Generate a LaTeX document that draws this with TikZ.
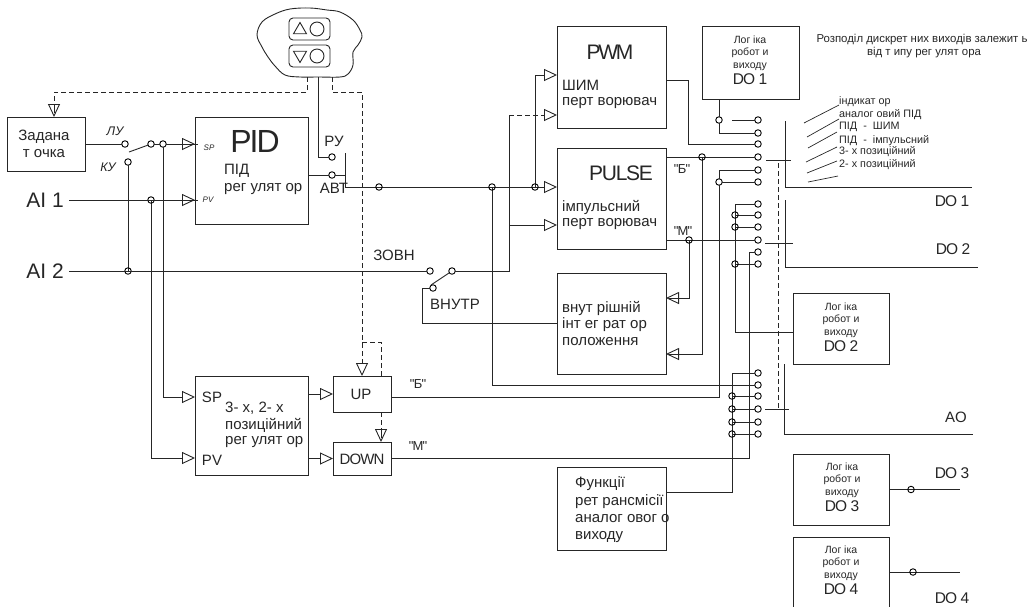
\documentclass[tikz,border=0pt]{standalone}
\usepackage{fontspec}
\setmainfont{Liberation Sans}
\newfontfamily\tightsf[LetterSpace=-6]{Liberation Sans}
\newfontfamily\tightersf[LetterSpace=-11]{Liberation Sans}
\usetikzlibrary{arrows.meta,shapes.geometric}
\tikzset{
  wire/.style={line width=0.9pt,color=black!85},
  dline/.style={wire,dash pattern=on 5pt off 3pt},
  tri/.style={-{Triangle[open,length=13pt,width=12pt]}},
  block/.style={draw,line width=0.9pt,color=black!85,inner sep=0pt,outer sep=0pt},
  logic/.style={block,minimum width=96pt},
  logict/.style={inner sep=0pt,align=center,text=black!85,font=\fontsize{10.5}{12.6}\selectfont},
  term/.style={draw,circle,line width=0.9pt,fill=white,minimum size=6.5pt,inner sep=0pt,outer sep=0pt},
  junc/.style={draw,circle,line width=0.9pt,minimum size=6.5pt,inner sep=0pt,outer sep=0pt},
  lbl/.style={inner sep=0pt,text=black!85,font=\fontsize{15}{17}\selectfont},
  lbll/.style={lbl,anchor=west},
  tiny/.style={inner sep=0pt,text=black!85,anchor=west,font=\fontsize{10.8}{12}\selectfont},
  ital/.style={inner sep=0pt,text=black!85,font=\fontsize{12.5}{14}\itshape\selectfont},
  big/.style={inner sep=0pt,text=black!85,font=\tightsf\fontsize{21}{24}\selectfont},
  do/.style={inner sep=0pt,text=black!85,font=\tightsf\fontsize{15.5}{17}\selectfont},
  quot/.style={inner sep=0pt,text=black!85,font=\tightsf\fontsize{13}{15}\selectfont},
}
\newcommand{\dotext}[1]{{\tightsf\fontsize{15.5}{17}\selectfont #1}}
\begin{document}
\begin{tikzpicture}[x=1pt,y=-1pt]
\useasboundingbox (0,0) rectangle (1027,606);
% operator panel
\draw[wire] plot[smooth cycle,tension=0.6] coordinates {(257,35) (262,22) (275,14) (290,9) (310,8) (327,10) (340,12) (353,20) (360,30) (362,37) (358,45) (353,52) (353,65) (348,74) (340,77) (318,77) (300,77) (285,75) (275,66) (268,57) (262,47)};
\node[block,rounded corners=4pt,minimum width=41pt,minimum height=22pt] (bup) at (309.5,29) {};
\node[block,rounded corners=4pt,minimum width=41pt,minimum height=22pt] (bdn) at (309.5,56) {};
\node[block,regular polygon,regular polygon sides=3,minimum size=15pt] (tup) at (300,30) {};
\node[block,regular polygon,regular polygon sides=3,shape border rotate=180,minimum size=15pt] (tdn) at (300,55) {};
\node[block,circle,minimum size=14pt] (cup) at (317,29) {};
\node[block,circle,minimum size=14pt] (cdn) at (317,56) {};
\coordinate (bl) at (307,77); \coordinate (bm) at (318,77); \coordinate (br) at (332,77);
% blocks
\node[block,minimum width=78pt,minimum height=54pt] (zad) at (46,144) {};
\node[block,minimum width=113pt,minimum height=107pt] (pid) at (251.5,170.5) {};
\node[block,minimum width=113pt,minimum height=99pt] (reg) at (251.5,425.5) {};
\node[block,minimum width=58pt,minimum height=36pt] (upb) at (362,394) {};
\node[block,minimum width=58pt,minimum height=33pt] (dnb) at (362,458.5) {};
\node[block,minimum width=109pt,minimum height=102pt] (pwm) at (611.5,77) {};
\node[block,minimum width=109pt,minimum height=101pt] (pulse) at (611.5,198.5) {};
\node[block,minimum width=109pt,minimum height=101pt] (intg) at (611.5,323.5) {};
\node[block,minimum width=109pt,minimum height=83pt] (fun) at (611.5,508.5) {};
\node[logic,minimum width=97pt,minimum height=73pt] (dol) at (750.5,62.5) {};
\node[logic,minimum height=71pt] (dob) at (841,328.5) {};
\node[logic,minimum height=71pt] (doc) at (841,489.5) {};
\node[logic,minimum height=70pt] (dod) at (841,572) {};
\foreach \n/\x/\y/\t in {a/750/60/1,b/841/327/2,c/842/487/3,d/841/570/4} \node[logict] (tdo\n) at (\x,\y) {Лог іка\\робот и\\виходу\\[1.5pt]\dotext{DO \t}};
% contacts
\foreach \n/\y in {1/120,2/133,3/144,4/157,5/170,6/182,7/204,8/215,9/227,10/240,11/252,12/264} \node[term] (t\n) at (758,\y) {};
\foreach \n/\y in {1/373,2/385,3/396,4/409,5/422,6/434} \node[term] (a\n) at (758,\y) {};
\node[term] (slu) at (125,144) {};
\node[term] (sku) at (128,162) {};
\node[term] (sw1) at (151,144) {};
\node[term] (sw2) at (163,144) {};
\node[term] (rpy) at (332,157) {};
\node[term] (rab) at (332,175) {};
\node[term] (s2a) at (430,271) {};
\node[term] (s2b) at (452,271) {};
\node[term] (s2c) at (433,288) {};
\node[term] (j719) at (719,120) {};
\node[term] (j182) at (719,182) {};
\coordinate (blade) at (129,152); \coordinate (blade2) at (431,285);
\coordinate (swt) at (345,187); \coordinate (ext2) at (509,115); \coordinate (ext1) at (509,225);
\coordinate (upj) at (362,342); \coordinate (upr) at (381,376); \coordinate (t1l) at (732,120);
\coordinate (b735) at (735,332); \coordinate (b732) at (732,373); \coordinate (b749) at (749,458);
% wires
\draw[wire] (zad.east) -- (slu);
\draw[wire] (blade) -- (sw1);
\draw[wire] (blade2) -- (s2b);
\draw[wire,tri] (sw2) -- (pid.west |- sw2);
\draw[wire] (sw1) -- (sw2);
\draw[wire] (sku) -- (128,271);
\draw[wire,tri] (sw2) |- (reg.west |- 0,397);
\draw[wire,tri] (151,200) |- (reg.west |- 0,458);
\draw[wire] (bm) |- (rpy);
\draw[wire] (pid.east |- rab) -- (rab) -- (345,175);
\draw[wire] (345,153) -- (swt);
\draw[wire,tri] (swt) -- (pulse.west |- swt);
\draw[wire,tri] (535,187) |- (pwm.west |- 0,75);
\draw[wire] (492,187) |- (a2);
\draw[wire] (s2b) -| (ext2);
\draw[wire,tri] (ext1) -- (pulse.west |- ext1);
\draw[wire] (s2c) -- (422,288) |- (intg.west);
\draw[wire,tri] (reg.east |- upb) -- (upb.west);
\draw[wire,tri] (reg.east |- dnb) -- (dnb.west);
\draw[wire] (pwm.east |- 0,80) -- (688,80) |- (t3);
\draw[wire] (pulse.east |- t4) -- (t4);
\draw[wire] (pulse.east |- t10) -- (t10);
\draw[wire,tri] (702,157) |- (intg.east |- 0,354);
\draw[wire,tri] (689,240) |- (intg.east |- 0,298);
\draw[wire] (j719 |- dol.south) -- (j719);
\draw[wire] (j719) |- (t2);
\draw[wire] (t1l) -- (t1);
\draw[wire] (t5) -| (j182);
\draw[wire] (j182) -- (t6);
\draw[wire] (upb.east |- 0,397) -| (j182);
\draw[wire] (t7) -| (b735) -- (dob.west |- b735);
\foreach \y/\t in {215/t8,227/t9,264/t12} \draw[wire] (735,\y) -- (\t);
\draw[wire] (t11) -| (b749) -- (dnb.east |- b749);
\draw[wire] (fun.east |- 0,492) -| (b732) -- (a1);
\foreach \t in {a3,a4,a5,a6} \draw[wire] (b732 |- \t) -- (\t);
\draw[wire] (doc.east) -- (960,489.5);
\draw[wire] (dod.east) -- (960,572);
% control lines
\draw[dline,tri] (bl) -- (307,92) -| (54,117);
\draw[dline,tri] (br) -- (332,92) -| (upb.north);
\draw[dline] (upj) -| (upr);
\draw[dline,tri] (upr |- upb.south) -- (upr |- dnb.north);
\draw[dline,tri] (ext2) -- (pwm.west |- ext2);
\draw[dline] (778,163) -- (778,409);
% ticks inside the arrow heads
\foreach \a/\b/\c/\d in {182/144/198/144,182/200/198/200,54/104/54/113,381/429/381/438,678/298/669/298,678/354/669/354} \draw[wire,line width=0.7pt] (\a,\b) -- (\c,\d);
% outputs
\draw[wire] (766,160) -- (791,160);
\draw[wire] (765,243) -- (793,243);
\draw[wire] (765,409) -- (789,409);
\draw[wire] (785,121) |- (972,187);
\draw[wire] (785,200) |- (978,267);
\draw[wire] (784,364) |- (973,434);
\foreach \a/\b/\c/\d in {804/123/839/105,807/137/839/119,808/148/837/132,806/162/837/147,807/173/837/161,808/182/838/176} \draw[wire,line width=0.7pt] (\a,\b) -- (\c,\d);
% junctions
\foreach \n/\x/\y in {a/151/200,b/128/271,c/379/187,d/492/187,e/535/187,f/702/157,g/689/240,h/735/215,i/735/227,k/735/264,l/732/396,m/732/409,n/732/422,o/732/434,p/911/489.5,q/913/572} \node[junc] (j\n) at (\x,\y) {};
% texts
\node[lbl,align=center] (tzad) at (44,144) {Задана\\т очка};
\node[lbl,anchor=east,font=\fontsize{21}{24}\selectfont] (ai1) at (64,200) {AI 1};
\node[lbl,anchor=east,font=\fontsize{21}{24}\selectfont] (ai2) at (64,271) {AI 2};
\draw[wire,tri] (ai1.east) ++(5,0) -- (pid.west |- ai1);
\draw[wire] (ai2.east) ++(5,0) -- (s2a);
\node[ital] (tlu) at (115,131) {ЛУ};
\node[ital] (tku) at (108,167) {КУ};
\node[ital,font=\fontsize{8}{9}\itshape\selectfont] (tsp) at (209,148) {SP};
\node[ital,font=\fontsize{8}{9}\itshape\selectfont] (tpv) at (208,200) {PV};
\node[big,font=\tightsf\fontsize{32}{36}\selectfont] (tpid) at (255,141) {PID};
\node[lbll] (tpid1) at (224,171) {ПІД};
\node[lbll] (tpid2) at (224,189) {рег улят ор};
\node[lbl] (tru) at (334,141) {РУ};
\node[lbl] (tabt) at (334,188) {АВТ};
\node[lbl] (tzovn) at (394,255) {ЗОВН};
\node[lbl] (tvnu) at (455,304) {ВНУТР};
\node[big,font=\tightersf\fontsize{21}{24}\selectfont] (tpwm) at (610,52) {PWM};
\node[lbll] (tpwm1) at (562,85) {ШИМ};
\node[lbll] (tpwm2) at (562,103) {перт ворювач};
\node[big] (tpul) at (621,173) {PULSE};
\node[lbll] (tpul1) at (562,207) {імпульсний};
\node[lbll] (tpul2) at (562,224) {перт ворювач};
\node[quot] (tb1) at (682,169) {"Б"};
\node[quot] (tm1) at (683,231) {"М"};
\node[lbll] (tint1) at (562,308) {внут рішній};
\node[lbll] (tint2) at (562,325) {інт ег рат ор};
\node[lbll] (tint3) at (562,342) {положення};
\node[lbl] (tsp2) at (212,397) {SP};
\node[lbl] (tpv2) at (212,460) {PV};
\node[lbll] (treg1) at (225,408) {3- х, 2- х};
\node[lbll] (treg2) at (225,425) {позиційний};
\node[lbll] (treg3) at (225,442) {рег улят ор};
\node[lbl] (tup) at (361,394) {UP};
\node[lbl,font=\tightsf\fontsize{15}{17}\selectfont] (tdn) at (362,459) {DOWN};
\node[quot] (tb2) at (418,384) {"Б"};
\node[quot] (tm2) at (418,446) {"М"};
\node[lbll] (tfun1) at (575,484) {Функції};
\node[lbll] (tfun2) at (575,502) {рет рансмісії};
\node[lbll] (tfun3) at (575,519) {аналог овог о};
\node[lbll] (tfun4) at (575,537) {виходу};
\node[tiny,anchor=center,font=\fontsize{11.4}{13}\selectfont] (tnote1) at (922,40) {Розподіл дискрет них виходів залежит ь};
\node[tiny,anchor=center,font=\fontsize{11.4}{13}\selectfont] (tnote2) at (924,53) {від т ипу рег улят ора};
\foreach \n/\y/\t in {1/102/індикат ор,2/115/аналог овий ПІД,3/127/ПІД ~- ~ШИМ,4/141/ПІД ~- ~імпульсний,5/152/3- х позиційний,6/165/2- х позиційний} \node[tiny] (tl\n) at (839,\y) {\t};
\node[do] (tdo1) at (952,201) {DO 1};
\node[do] (tdo2) at (953,249) {DO 2};
\node[lbl] (tao) at (956,417) {AO};
\node[do] (tdo3) at (952,473) {DO 3};
\node[do] (tdo4) at (952,598) {DO 4};
\end{tikzpicture}
\end{document}
